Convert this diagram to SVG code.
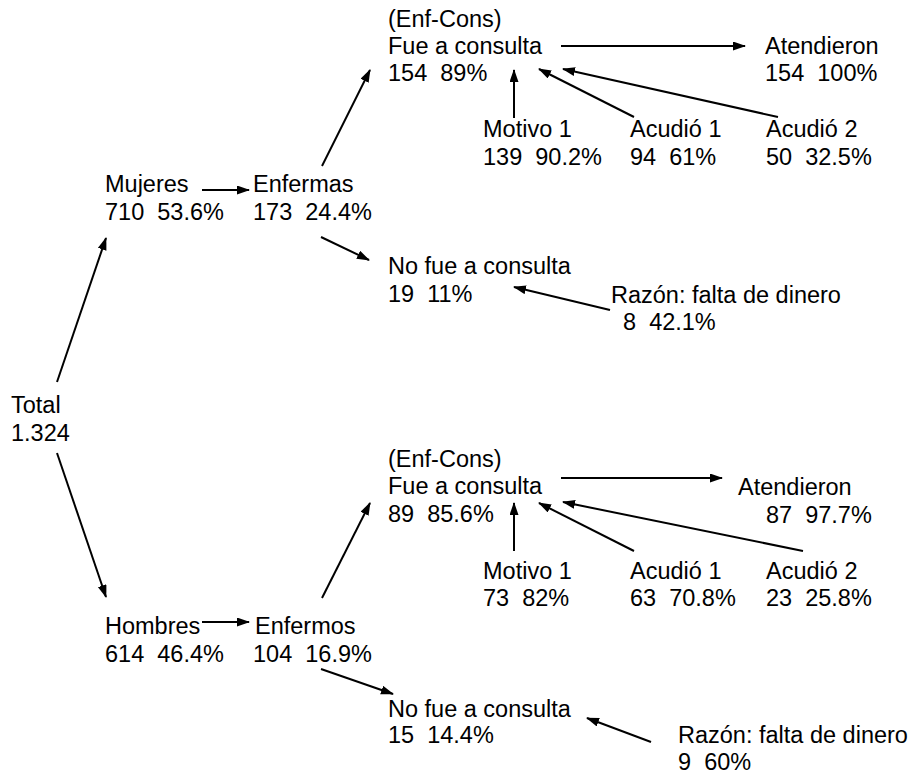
<svg xmlns="http://www.w3.org/2000/svg" width="917" height="778" viewBox="0 0 917 778">
<style>
text{font-family:"Liberation Sans",Arial,sans-serif;font-size:23.5px;fill:#000;white-space:pre}
.c line{stroke:#000;stroke-width:2;marker-end:url(#ah)}
</style>
<defs>
<marker id="ah" markerUnits="userSpaceOnUse" markerWidth="13" markerHeight="10" refX="12" refY="4.5" orient="auto">
<path d="M0,0 L13,4.5 L0,9 z" fill="#000"/>
</marker>
</defs>
<rect width="917" height="778" fill="#fff"/>
<g class="c" id="connectors">
<line x1="57" y1="382" x2="106" y2="238"/>
<line x1="57" y1="453" x2="106" y2="597"/>
<line x1="202" y1="190" x2="249" y2="190"/>
<line x1="322" y1="166" x2="370" y2="70"/>
<line x1="321" y1="237" x2="369" y2="260"/>
<line x1="561" y1="46" x2="745" y2="46"/>
<line x1="514" y1="118" x2="514" y2="70"/>
<line x1="634" y1="117" x2="539" y2="69"/>
<line x1="778" y1="117" x2="563" y2="69"/>
<line x1="610" y1="310" x2="514" y2="287"/>
<line x1="202" y1="622" x2="249" y2="622"/>
<line x1="322" y1="598" x2="370" y2="503"/>
<line x1="321" y1="669" x2="393" y2="694"/>
<line x1="561" y1="478" x2="722" y2="478"/>
<line x1="514" y1="551" x2="514" y2="503"/>
<line x1="634" y1="551" x2="539" y2="503"/>
<line x1="803" y1="551" x2="563" y2="502"/>
<line x1="651" y1="742" x2="587" y2="718"/>
</g>
<g id="total"><text x="11" y="413">Total</text><text x="11" y="441">1.324</text></g>
<g id="mujeres"><text x="105" y="192">Mujeres</text><text x="105" y="220">710  53.6%</text></g>
<g id="enfermas"><text x="253" y="192">Enfermas</text><text x="253" y="220">173  24.4%</text></g>
<g id="fue-m"><text x="388" y="27">(Enf-Cons)</text><text x="388" y="54">Fue a consulta</text><text x="388" y="81">154  89%</text></g>
<g id="atend-m"><text x="765" y="54">Atendieron</text><text x="765" y="81">154  100%</text></g>
<g id="motivo-m"><text x="483" y="137">Motivo 1</text><text x="483" y="165">139  90.2%</text></g>
<g id="acud1-m"><text x="630" y="137">Acudió 1</text><text x="630" y="165">94  61%</text></g>
<g id="acud2-m"><text x="766" y="137">Acudió 2</text><text x="766" y="165">50  32.5%</text></g>
<g id="nofue-m"><text x="388" y="274">No fue a consulta</text><text x="388" y="302">19  11%</text></g>
<g id="razon-m"><text x="611" y="303">Razón: falta de dinero</text><text x="623" y="330">8  42.1%</text></g>
<g id="hombres"><text x="105" y="634">Hombres</text><text x="105" y="662">614  46.4%</text></g>
<g id="enfermos"><text x="255" y="634">Enfermos</text><text x="253" y="662">104  16.9%</text></g>
<g id="fue-h"><text x="388" y="467">(Enf-Cons)</text><text x="388" y="494">Fue a consulta</text><text x="388" y="522">89  85.6%</text></g>
<g id="atend-h"><text x="738" y="495">Atendieron</text><text x="766" y="523">87  97.7%</text></g>
<g id="motivo-h"><text x="483" y="579">Motivo 1</text><text x="483" y="606">73  82%</text></g>
<g id="acud1-h"><text x="630" y="579">Acudió 1</text><text x="630" y="606">63  70.8%</text></g>
<g id="acud2-h"><text x="766" y="579">Acudió 2</text><text x="766" y="606">23  25.8%</text></g>
<g id="nofue-h"><text x="388" y="717">No fue a consulta</text><text x="388" y="743">15  14.4%</text></g>
<g id="razon-h"><text x="678" y="743">Razón: falta de dinero</text><text x="678" y="770">9  60%</text></g>
</svg>
